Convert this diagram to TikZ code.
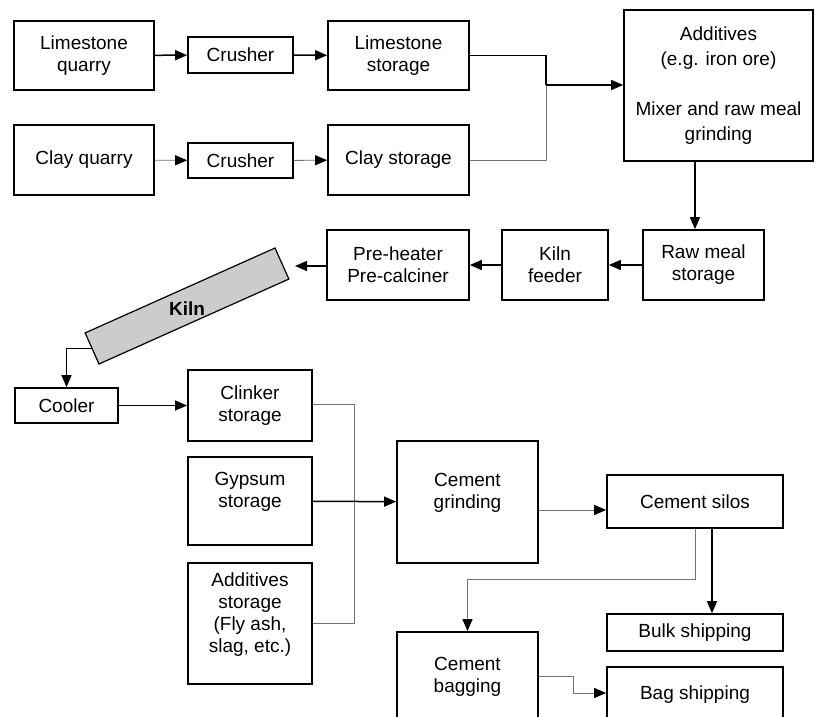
\documentclass[tikz,border=0pt]{standalone}
\usepackage{fontspec}
\setmainfont{Liberation Sans}
\usetikzlibrary{arrows.meta}

\begin{document}
\begin{tikzpicture}[x=1pt,y=-1pt,
     box/.style={draw,line width=1.7pt,align=center,inner sep=0pt,
       font=\fontsize{19}{22}\selectfont},
     arr/.style={line width=1.5pt,-{Triangle[length=12pt,width=10pt,color=black]}},
     thinarr/.style={line width=0.9pt,black!55,-{Triangle[length=12pt,width=10pt,color=black]}},
     thinline/.style={line width=0.9pt,black!55},
     thickline/.style={line width=1.5pt}]
     \useasboundingbox (0,0) rectangle (815,717);
     \begin{scope}
     \clip (0,0) rectangle (815,717);

     \path (84,55.5) node[box,minimum width=140,minimum height=69] (lq) {Limestone\\quarry};
     \path (240.5,55) node[box,minimum width=105,minimum height=36] (cra) {Crusher};
     \path (398.5,55.5) node[box,minimum width=141,minimum height=69] (ls) {Limestone\\storage};
     \path (84,160) node[box,minimum width=140,minimum height=70] (cq) {Clay quarry};
     \path (240.5,160.5) node[box,minimum width=105,minimum height=35] (crb) {Crusher};
     \path (398.5,160) node[box,minimum width=141,minimum height=70] (cs) {Clay storage};
     \path (718.5,85.5) node[box,minimum width=189,minimum height=151,
       font=\fontsize{19}{25}\selectfont] (mix) {Additives\\(e.g. iron ore)\\ \\Mixer and raw meal\\grinding};

     \path (703.5,265) node[box,minimum width=121,minimum height=70] (rms) {Raw meal\\storage};
     \path (555,265) node[box,minimum width=106,minimum height=70] (kf) {Kiln\\feeder};
     \path (398,265) node[box,minimum width=142,minimum height=70] (ph) {Pre-heater\\Pre-calciner};
     \coordinate (kin) at (295,266);

     \path (187,306) node[draw,line width=1.2pt,fill=gray!40,rotate=24.1,
       minimum width=208,minimum height=34] (kiln) {};
     \path (187,309) node[font=\fontsize{19}{22}\selectfont\bfseries] (kilntxt) {Kiln};

     \path (66.5,405.5) node[box,minimum width=103,minimum height=35] (cool) {Cooler};
     \path (250,405.5) node[box,minimum width=124,minimum height=71] (cls) {Clinker\\storage};
     \path (250,501) node[box,minimum width=124,minimum height=88] (gys) {Gypsum\\storage\\ };
     \path (250,623.5) node[box,minimum width=124,minimum height=121] (ads) {Additives\\storage\\(Fly ash,\\slag, etc.)\\ };
     \path (467.5,502) node[box,minimum width=141,minimum height=122] (cg) {Cement\\grinding\\ };
     \path (695,501.5) node[box,minimum width=176,minimum height=53] (sil) {Cement silos};
     \path (695,632.5) node[box,minimum width=176,minimum height=37] (bulk) {Bulk shipping};
     \path (467.5,686) node[box,minimum width=141,minimum height=108] (cb) {Cement\\bagging\\ };
     \path (695,703.5) node[box,minimum width=176,minimum height=73] (bag) {Bag shipping\\ };

     \coordinate (ja) at (546,85);
     \coordinate (jb) at (354,501);
     \coordinate (bt) at (695,579);

     \draw[arr] (lq) -- (cra);
     \draw[arr] (cra) -- (ls);
     \draw[thinarr] (cq) -- (crb);
     \draw[thinarr] (crb) -- (cs);
     \draw[thickline] (ls.east) -| (ja);
     \draw[thinline] (cs.east) -| (ja);
     \draw[arr] (ja) -- (ja -| mix.west);
     \draw[arr] ([xshift=-8.5pt]rms.north |- mix.south) -- ([xshift=-8.5pt]rms.north);
     \draw[arr] (rms) -- (kf);
     \draw[arr] (kf) -- (ph);
     \draw[arr] (ph.west |- kin) -- (kin);
     \draw[arr] (kiln.west) -| (cool.north);
     \draw[arr] (cool) -- (cls.west |- cool);
     \draw[thinline] (cls.east |- 0,404) -| (jb);
     \draw[thinline] (ads.east) -| (jb);
     \draw[arr] (gys) -- (cg);
     \draw[thinarr] ([yshift=-8.5pt]sil.west -| cg.east) -- ([yshift=-8.5pt]sil.west);
     \draw[arr] ([xshift=17pt]sil.south) -- ([xshift=17pt]bulk.north);
     \draw[thinarr] (sil.south) -- (bt) -| (cb.north);
     \draw[thinarr] ([yshift=10pt]cb.east) -- ++(35,0) |- ([yshift=10.5pt]bag.west);
     \end{scope}
   \end{tikzpicture}
\end{document}
